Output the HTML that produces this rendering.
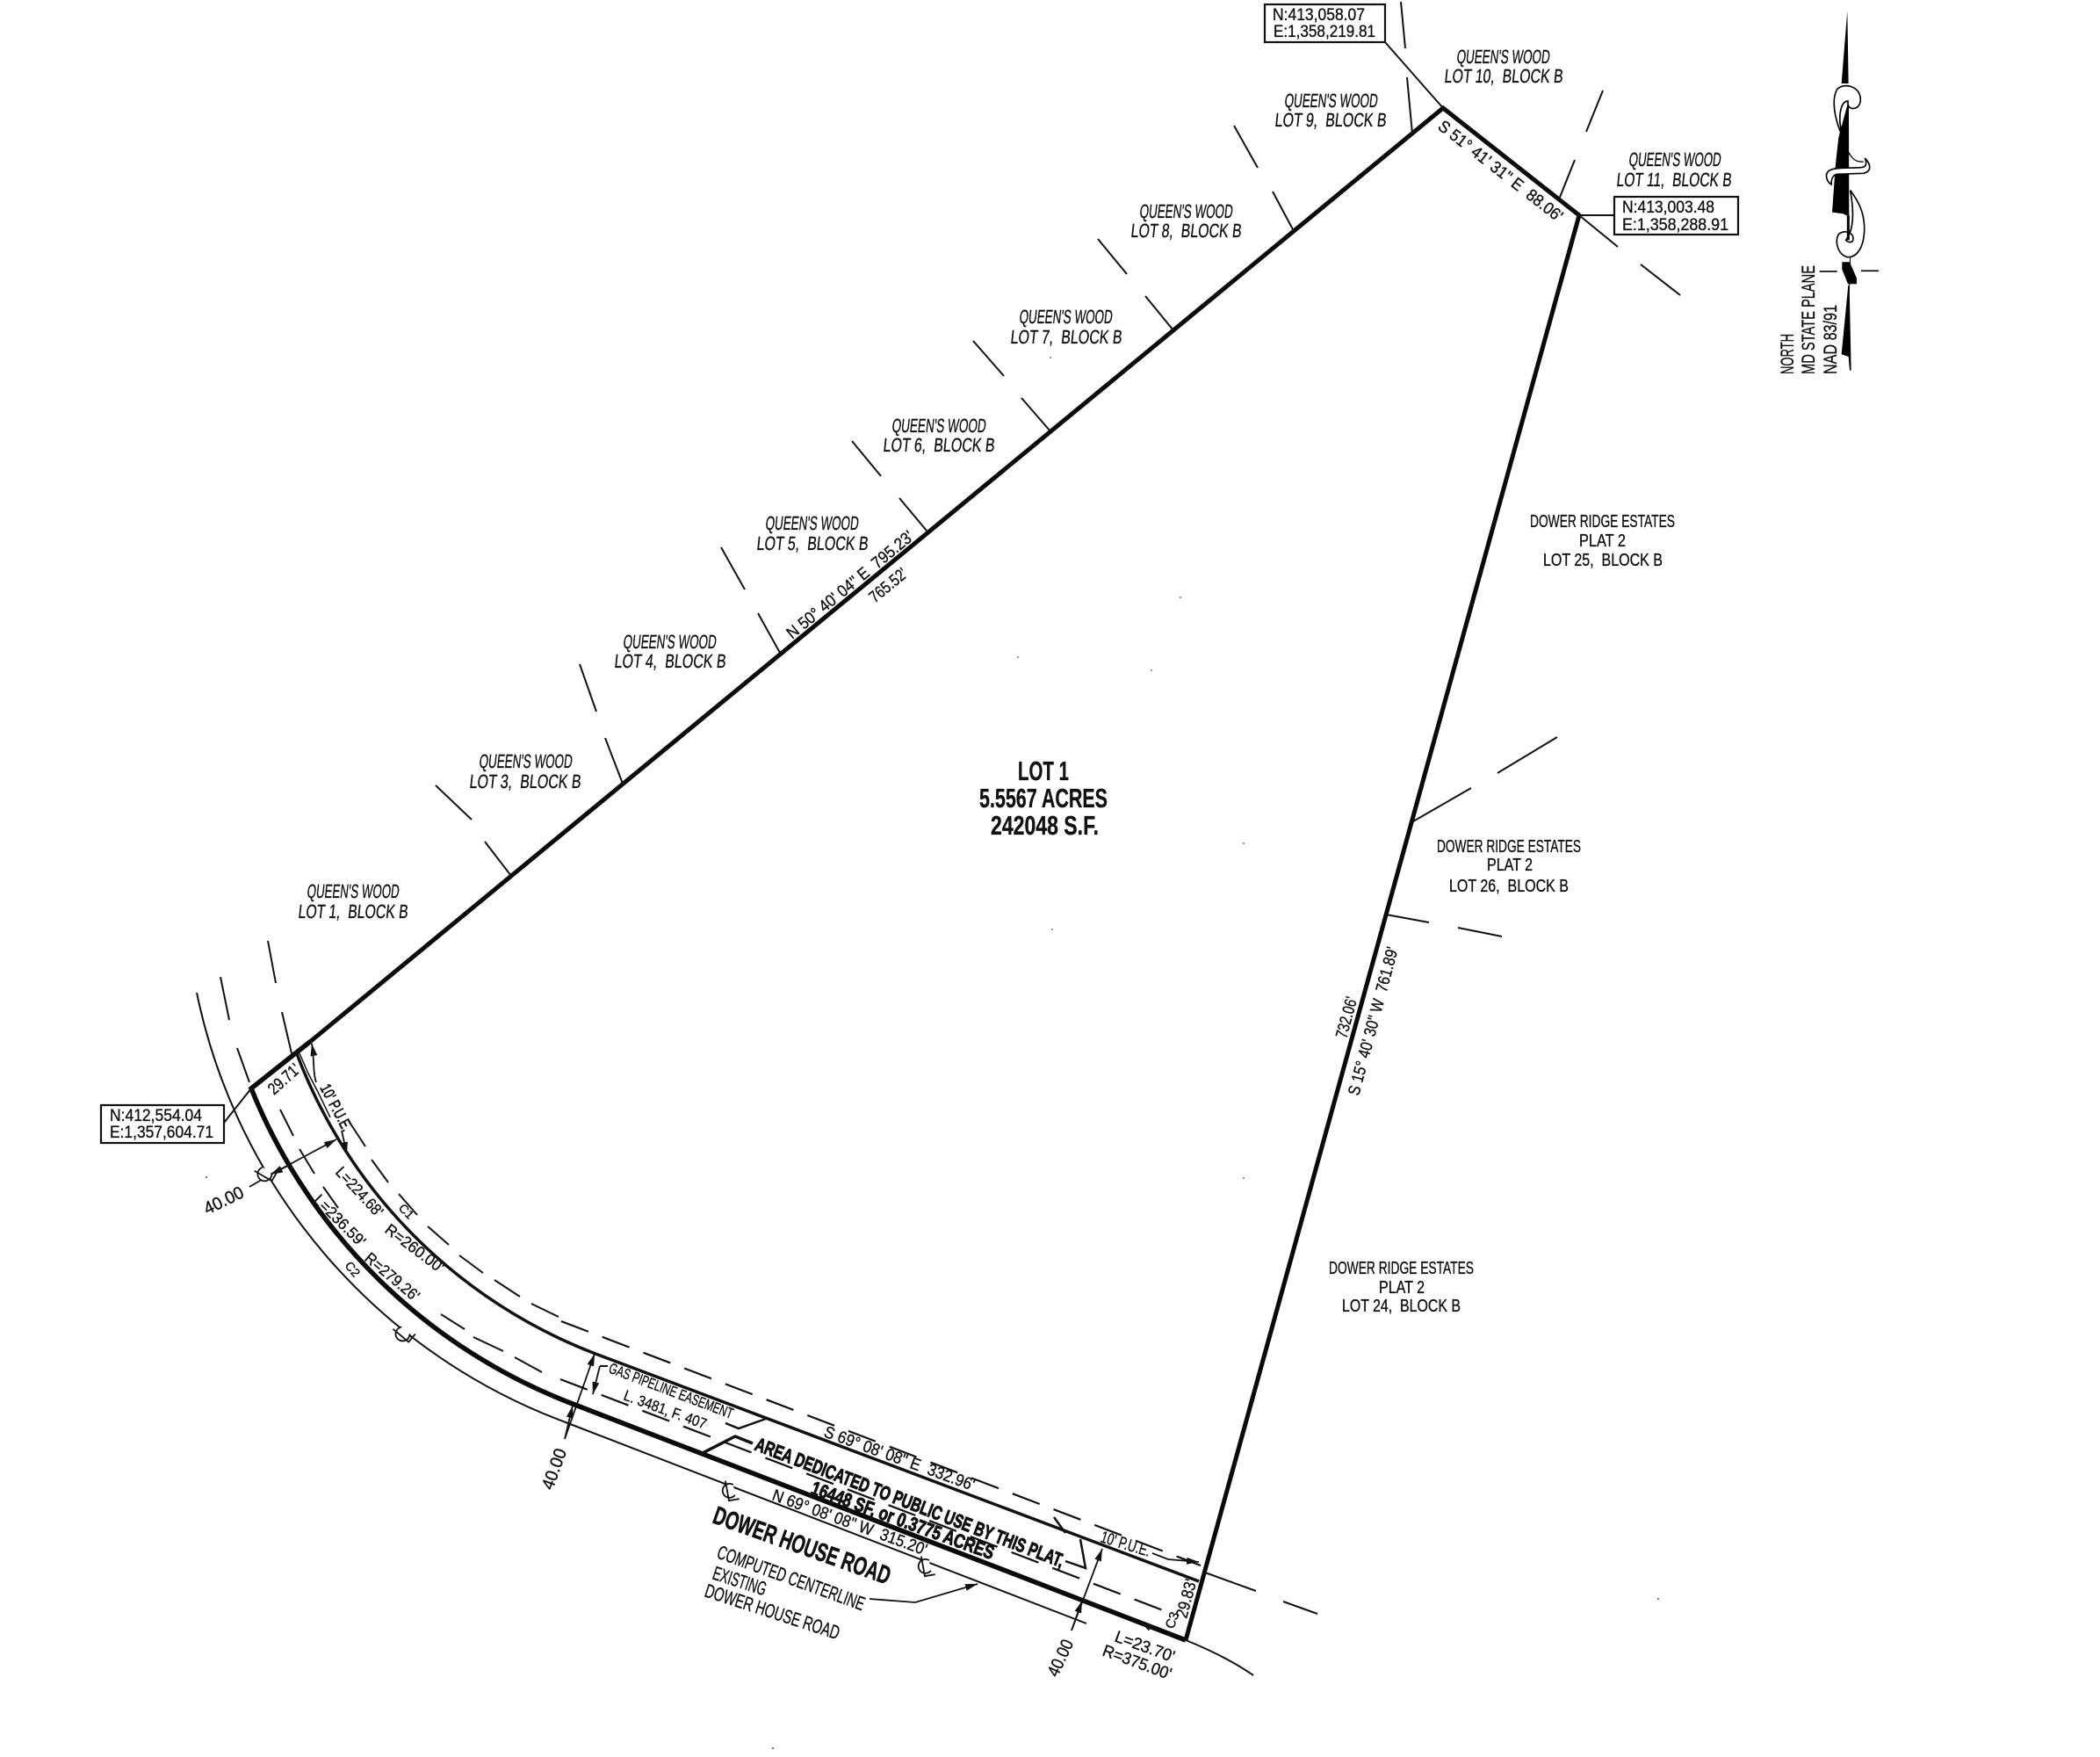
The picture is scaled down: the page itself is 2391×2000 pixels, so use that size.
<!DOCTYPE html>
<html><head><meta charset="utf-8"><title>Plat</title>
<style>
html,body{margin:0;padding:0;background:#fff}
svg{display:block}
text{font-family:"Liberation Sans",sans-serif;fill:#111;stroke:#111;stroke-width:.35px;white-space:pre}
.q{font-size:22px}
.d{font-size:20px}
.b{font-size:19px}
.r{font-size:19px}
.h{font-weight:bold;stroke-width:.8px}
.th{fill:none;stroke:#111;stroke-width:2}
</style></head><body>
<svg width="2391" height="2000" viewBox="0 0 2391 2000" xmlns="http://www.w3.org/2000/svg">
<defs><marker id="a" markerUnits="userSpaceOnUse" markerWidth="14" markerHeight="8" refX="14" refY="4" orient="auto"><path d="M0,0L14,4L0,8Z" fill="#111"/></marker></defs>
<rect width="2391" height="2000" fill="#fff"/>

<!-- boundary -->
<g fill="none" stroke="#0a0a0a" stroke-width="5" stroke-linejoin="miter">
<path d="M354,1185L1643,123L1798,245L1350,1867"/>
<path d="M354,1185L286,1239A641,641 0 0 0 652,1598L1350,1867" stroke-width="5.5"/>
</g>
<path d="M337,1197A588,588 0 0 0 678,1541L1365,1800" fill="none" stroke="#111" stroke-width="3.5"/>
<path d="M224,1130A665,665 0 0 0 644,1619L1237,1848" class="th"/>
<path d="M1350,1867Q1395,1885 1427,1907" class="th"/>
<!-- dashed -->
<path d="M639,1504L1367,1782" fill="none" stroke="#111" stroke-width="2.2" stroke-dasharray="33 17"/>
<path d="M638,1570L1324,1833" fill="none" stroke="#111" stroke-width="2.2" stroke-dasharray="33 17"/>
<g stroke="#111" stroke-width="2" fill="none">
<path d="M305,1071L314,1119M321,1152L332,1199M397,1276L416,1305M423,1320L442,1346M454,1359L475,1383M487,1396L511,1417M523,1429L550,1449M563,1457L592,1476M605,1484L636,1499"/>
<path d="M251,1112L261,1161M270,1193L284,1232M319,1263L334,1293M341,1308L358,1336M368,1351L385,1375M502,1496L529,1513M539,1522L573,1538M586,1545L617,1562"/>
<!-- lot ticks -->
<path d="M1595,2L1600,55M1602,88L1608,152M1405,143L1432,191M1449,218L1473,263M1250,272L1283,312M1304,337L1336,376M1108,388L1143,428M1163,453L1196,491M970,502L1003,542M1024,567L1055,604M821,623L848,671M863,698L888,743M660,756L679,810M689,840L709,892M496,894L537,933M552,958L582,997"/>
<path d="M1825,103L1806,150M1793,182L1775,227M1798,245L1842,281M1868,301L1913,336M1609,935L1675,897M1705,880L1773,839M1578,1041L1627,1050M1660,1056L1710,1066"/>
<path d="M1372,1790L1430,1811M1461,1823L1500,1837"/>
<!-- leaders -->
<path d="M1577,48L1643,123M1798,245L1838,245M255,1278L286,1239"/>
<path d="M692,1555L683,1555"/>
<path d="M826,1620L841,1626L872,1615" stroke-width="2.5"/>
<path d="M798,1655L837,1635L857,1643" stroke-width="3.5"/>
<path d="M1200,1727L1213,1745M1230,1752L1236,1785L1213,1777" stroke-width="2.5"/>
<path d="M341,1199L351,1222L362,1243L376,1272" stroke-width="1.5"/>
</g>
<g fill="none" stroke="#111" stroke-width="1.8">
<path d="M284,1351L308,1337" />
<path d="M308,1337L383,1297" marker-end="url(#a)"/>
<path d="M330,1326L308,1337" marker-end="url(#a)"/>
<path d="M360,1232C356,1220 358,1205 355,1188" marker-end="url(#a)"/>
<path d="M389,1287L395,1314" marker-end="url(#a)"/>
<path d="M643,1638L677,1541" marker-end="url(#a)"/>
<path d="M643,1638L652,1600" marker-end="url(#a)"/>
<path d="M683,1555L675,1587" marker-end="url(#a)"/>
<path d="M1220,1856L1255,1763" marker-end="url(#a)"/>
<path d="M1220,1856L1232,1822" marker-end="url(#a)"/>
<path d="M1312,1768L1330,1775L1365,1778" marker-end="url(#a)"/>
<path d="M990,1820L1042,1824L1113,1803" marker-end="url(#a)"/>
<path d="M1310,1853L1298,1846" marker-end="url(#a)"/>
</g>

<!-- coordinate boxes -->
<g fill="#fff" stroke="#111" stroke-width="2.2">
<rect x="1440" y="5" width="137" height="43"/>
<rect x="1838" y="224" width="141" height="43"/>
<rect x="115" y="1258" width="140" height="43"/>
</g>
<text class="b" x="1449" y="23" textLength="105" lengthAdjust="spacingAndGlyphs">N:413,058.07</text>
<text class="b" x="1450" y="42" textLength="116" lengthAdjust="spacingAndGlyphs">E:1,358,219.81</text>
<text class="b" x="1847" y="242" textLength="105" lengthAdjust="spacingAndGlyphs">N:413,003.48</text>
<text class="b" x="1847" y="262" textLength="121" lengthAdjust="spacingAndGlyphs">E:1,358,288.91</text>
<text class="b" x="125" y="1276" textLength="105" lengthAdjust="spacingAndGlyphs">N:412,554.04</text>
<text class="b" x="125" y="1295" textLength="118" lengthAdjust="spacingAndGlyphs">E:1,357,604.71</text>

<!-- Queen's Wood -->
<g class="q">
<text transform="translate(349 1022) skewX(-6)" textLength="105" lengthAdjust="spacingAndGlyphs">QUEEN'S WOOD</text>
<text transform="translate(339 1045) skewX(-6)" textLength="125" lengthAdjust="spacingAndGlyphs">LOT 1,  BLOCK B</text>
<text transform="translate(545 874) skewX(-6)" textLength="106" lengthAdjust="spacingAndGlyphs">QUEEN'S WOOD</text>
<text transform="translate(534 897) skewX(-6)" textLength="127" lengthAdjust="spacingAndGlyphs">LOT 3,  BLOCK B</text>
<text transform="translate(709 738) skewX(-6)" textLength="106" lengthAdjust="spacingAndGlyphs">QUEEN'S WOOD</text>
<text transform="translate(699 760) skewX(-6)" textLength="127" lengthAdjust="spacingAndGlyphs">LOT 4,  BLOCK B</text>
<text transform="translate(871 603) skewX(-6)" textLength="106" lengthAdjust="spacingAndGlyphs">QUEEN'S WOOD</text>
<text transform="translate(861 626) skewX(-6)" textLength="127" lengthAdjust="spacingAndGlyphs">LOT 5,  BLOCK B</text>
<text transform="translate(1015 492) skewX(-6)" textLength="107" lengthAdjust="spacingAndGlyphs">QUEEN'S WOOD</text>
<text transform="translate(1005 514) skewX(-6)" textLength="127" lengthAdjust="spacingAndGlyphs">LOT 6,  BLOCK B</text>
<text transform="translate(1160 368) skewX(-6)" textLength="106" lengthAdjust="spacingAndGlyphs">QUEEN'S WOOD</text>
<text transform="translate(1150 391) skewX(-6)" textLength="127" lengthAdjust="spacingAndGlyphs">LOT 7,  BLOCK B</text>
<text transform="translate(1297 248) skewX(-6)" textLength="106" lengthAdjust="spacingAndGlyphs">QUEEN'S WOOD</text>
<text transform="translate(1287 270) skewX(-6)" textLength="126" lengthAdjust="spacingAndGlyphs">LOT 8,  BLOCK B</text>
<text transform="translate(1462 122) skewX(-6)" textLength="106" lengthAdjust="spacingAndGlyphs">QUEEN'S WOOD</text>
<text transform="translate(1451 144) skewX(-6)" textLength="127" lengthAdjust="spacingAndGlyphs">LOT 9,  BLOCK B</text>
<text transform="translate(1658 72) skewX(-6)" textLength="106" lengthAdjust="spacingAndGlyphs">QUEEN'S WOOD</text>
<text transform="translate(1644 94) skewX(-6)" textLength="135" lengthAdjust="spacingAndGlyphs">LOT 10,  BLOCK B</text>
<text transform="translate(1854 189) skewX(-6)" textLength="105" lengthAdjust="spacingAndGlyphs">QUEEN'S WOOD</text>
<text transform="translate(1840 212) skewX(-6)" textLength="131" lengthAdjust="spacingAndGlyphs">LOT 11,  BLOCK B</text>
</g>
<!-- Dower Ridge -->
<g class="d">
<text x="1742" y="600" textLength="165" lengthAdjust="spacingAndGlyphs">DOWER RIDGE ESTATES</text>
<text x="1798" y="622" textLength="53" lengthAdjust="spacingAndGlyphs">PLAT 2</text>
<text x="1757" y="644" textLength="136" lengthAdjust="spacingAndGlyphs">LOT 25,  BLOCK B</text>
<text x="1636" y="970" textLength="164" lengthAdjust="spacingAndGlyphs">DOWER RIDGE ESTATES</text>
<text x="1693" y="991" textLength="52" lengthAdjust="spacingAndGlyphs">PLAT 2</text>
<text x="1650" y="1015" textLength="136" lengthAdjust="spacingAndGlyphs">LOT 26,  BLOCK B</text>
<text x="1513" y="1450" textLength="165" lengthAdjust="spacingAndGlyphs">DOWER RIDGE ESTATES</text>
<text x="1570" y="1472" textLength="52" lengthAdjust="spacingAndGlyphs">PLAT 2</text>
<text x="1528" y="1493" textLength="135" lengthAdjust="spacingAndGlyphs">LOT 24,  BLOCK B</text>
</g>
<!-- lot 1 -->
<g class="h">
<text x="1159" y="888" textLength="58" lengthAdjust="spacingAndGlyphs" style="font-size:31px">LOT 1</text>
<text x="1115" y="919" textLength="146" lengthAdjust="spacingAndGlyphs" style="font-size:31px">5.5567 ACRES</text>
<text x="1128" y="950" textLength="123" lengthAdjust="spacingAndGlyphs" style="font-size:31px">242048 S.F.</text>
</g>

<!-- rotated dims -->
<g class="r">
<text transform="translate(1636 146) rotate(38)" textLength="174" lengthAdjust="spacingAndGlyphs">S 51° 41' 31" E  88.06'</text>
<text transform="translate(902 728) rotate(-39.5)" textLength="181" lengthAdjust="spacingAndGlyphs">N 50° 40' 04" E  795.23'</text>
<text transform="translate(996 687) rotate(-39.5)" textLength="50" lengthAdjust="spacingAndGlyphs">765.52'</text>
<text transform="translate(1547 1248) rotate(-75)" textLength="174" lengthAdjust="spacingAndGlyphs">S 15° 40' 30" W  761.89'</text>
<text transform="translate(1533 1183) rotate(-75)" textLength="48" lengthAdjust="spacingAndGlyphs">732.06'</text>
<text transform="translate(1351 1843) rotate(-75)" textLength="45" lengthAdjust="spacingAndGlyphs">29.83'</text>
<text transform="translate(1336 1855) rotate(-70)" style="font-size:15px">C3</text>
<text transform="translate(1268 1868) rotate(20)" textLength="71" lengthAdjust="spacingAndGlyphs">L=23.70'</text>
<text transform="translate(1254 1884) rotate(20)" textLength="82" lengthAdjust="spacingAndGlyphs">R=375.00'</text>
<text transform="translate(1204 1910) rotate(-65)" textLength="44" lengthAdjust="spacingAndGlyphs" style="font-size:20px">40.00</text>
<text transform="translate(629 1697) rotate(-70)" textLength="48" lengthAdjust="spacingAndGlyphs" style="font-size:20px">40.00</text>
<text transform="translate(236 1383) rotate(-26)" textLength="48" lengthAdjust="spacingAndGlyphs" style="font-size:20px">40.00</text>
<text transform="translate(364 1238) rotate(62)" textLength="58" lengthAdjust="spacingAndGlyphs" style="font-size:18px;stroke-width:.7px">10' P.U.E.</text>
<text transform="translate(312 1247) rotate(-42)" textLength="42" lengthAdjust="spacingAndGlyphs">29.71'</text>
<text transform="translate(381 1335) rotate(47)" textLength="70" lengthAdjust="spacingAndGlyphs" style="font-size:18px">L=224.68'</text>
<text transform="translate(437 1402) rotate(37)" textLength="79" lengthAdjust="spacingAndGlyphs" style="font-size:18px">R=260.00'</text>
<text transform="translate(453 1376) rotate(45)" style="font-size:14px">C1</text>
<text transform="translate(356 1367) rotate(45)" textLength="75" lengthAdjust="spacingAndGlyphs" style="font-size:18px">L=236.59'</text>
<text transform="translate(414 1434) rotate(40)" textLength="75" lengthAdjust="spacingAndGlyphs" style="font-size:18px">R=279.26'</text>
<text transform="translate(392 1441) rotate(50)" style="font-size:14px">C2</text>
<text transform="translate(692 1562) rotate(20.7)" textLength="150" lengthAdjust="spacingAndGlyphs" style="font-size:17px">GAS PIPELINE EASEMENT</text>
<text transform="translate(709 1593) rotate(20)" textLength="99" lengthAdjust="spacingAndGlyphs" style="font-size:17px">L. 3481, F. 407</text>
<text transform="translate(858 1650) rotate(21)" textLength="375" lengthAdjust="spacingAndGlyphs" style="font-size:22px;font-weight:bold;stroke-width:1px">AREA DEDICATED TO PUBLIC USE BY THIS PLAT,</text>
<text transform="translate(922 1700) rotate(20)" textLength="220" lengthAdjust="spacingAndGlyphs" style="font-size:22px;font-weight:bold;stroke-width:1px">16448 SF, or 0.3775 ACRES</text>
<text transform="translate(937 1635) rotate(20)" textLength="181" lengthAdjust="spacingAndGlyphs">S 69° 08' 08" E  332.96'</text>
<text transform="translate(878 1707) rotate(20)" textLength="186" lengthAdjust="spacingAndGlyphs">N 69° 08' 08" W  315.20'</text>
<text transform="translate(810 1733) rotate(19.5)" textLength="212" lengthAdjust="spacingAndGlyphs" style="font-size:29px;font-weight:bold;stroke-width:.6px">DOWER HOUSE ROAD</text>
<text transform="translate(815 1773) rotate(20)" textLength="177" lengthAdjust="spacingAndGlyphs" style="font-size:22px">COMPUTED CENTERLINE</text>
<text transform="translate(810 1797) rotate(18)" textLength="63" lengthAdjust="spacingAndGlyphs" style="font-size:22px">EXISTING</text>
<text transform="translate(801 1817) rotate(18)" textLength="160" lengthAdjust="spacingAndGlyphs" style="font-size:22px">DOWER HOUSE ROAD</text>
<text transform="translate(1252 1755) rotate(17)" textLength="58" lengthAdjust="spacingAndGlyphs">10' P.U.E.</text>
</g>

<!-- centerline symbols -->
<g fill="#fff" stroke="#111" stroke-width="1.8">
<g transform="translate(301 1337) rotate(-60)"><path d="M6,-6A8,8 0 1 0 6,6" /><path d="M-2,-12V11H10" fill="none"/></g>
<g transform="translate(458 1519) rotate(-50)"><path d="M6,-6A8,8 0 1 0 6,6"/><path d="M-2,-12V11H10" fill="none"/></g>
<g transform="translate(830 1697) rotate(-10)"><path d="M6,-6A8,8 0 1 0 6,6"/><path d="M-2,-12V11H10" fill="none"/></g>
<g transform="translate(1053 1783) rotate(-10)"><path d="M6,-6A8,8 0 1 0 6,6"/><path d="M-2,-12V11H10" fill="none"/></g>
</g>

<!-- north arrow -->
<g transform="translate(1950 0) scale(0.3333)">
<path d="M460,38L464,285L440,285Z" fill="#000"/>
<path d="M430,470L465,340L466,740L445,730L408,725L420,560Z" fill="#000"/>
<path d="M458,492C425,440 400,350 425,305C450,280 505,295 505,340C505,375 465,380 462,355L462,345C445,345 432,370 435,420C438,450 445,470 458,492Z" fill="#fff" stroke="#000" stroke-width="5"/>
<path d="M462,515C475,545 495,555 515,552" fill="none" stroke="#000" stroke-width="4"/>
<path d="M395,585C410,570 470,575 505,572C520,572 530,565 520,540C540,560 545,585 515,592L425,595C412,597 405,610 405,630C390,620 382,598 395,585Z" fill="#fff" stroke="#000" stroke-width="5"/>
<path d="M470,650C500,690 520,730 518,790C515,850 490,880 460,878C430,870 415,830 430,800C445,785 480,790 480,815C480,830 465,830 455,820C470,800 490,760 470,650Z" fill="#fff" stroke="#000" stroke-width="5"/>
<path d="M463,735V820" stroke="#000" stroke-width="9"/>
<path d="M442,895L468,895L492,950L492,970L462,970L442,920Z" fill="#000"/>
<path d="M470,880L466,1000" stroke="#000" stroke-width="3"/>
<path d="M365,927H425M507,925H567" stroke="#000" stroke-width="5"/>
<path d="M463,975L440,1210L464,1218L468,1265L473,1265L467,975Z" fill="#000"/>
</g>
<g>
<text transform="translate(2042 426) rotate(-90)" textLength="46" lengthAdjust="spacingAndGlyphs" style="font-size:21px">NORTH</text>
<text transform="translate(2066 426) rotate(-90)" textLength="124" lengthAdjust="spacingAndGlyphs" style="font-size:21px">MD STATE PLANE</text>
<text transform="translate(2091 426) rotate(-90)" textLength="79" lengthAdjust="spacingAndGlyphs" style="font-size:21px">NAD 83/91</text>
</g>
<!-- specks -->
<g fill="#777">
<circle cx="1198" cy="1058" r="1"/><circle cx="1311" cy="763" r="1"/><circle cx="1344" cy="680" r="1"/><circle cx="1159" cy="748" r="1"/><circle cx="1416" cy="960" r="1"/><circle cx="1888" cy="1820" r="1.2"/><circle cx="1416" cy="1341" r="1"/><circle cx="235" cy="1340" r="1.2"/><circle cx="1196" cy="407" r="1"/><circle cx="880" cy="1990" r="1.2"/>
</g>
</svg>
</body></html>
